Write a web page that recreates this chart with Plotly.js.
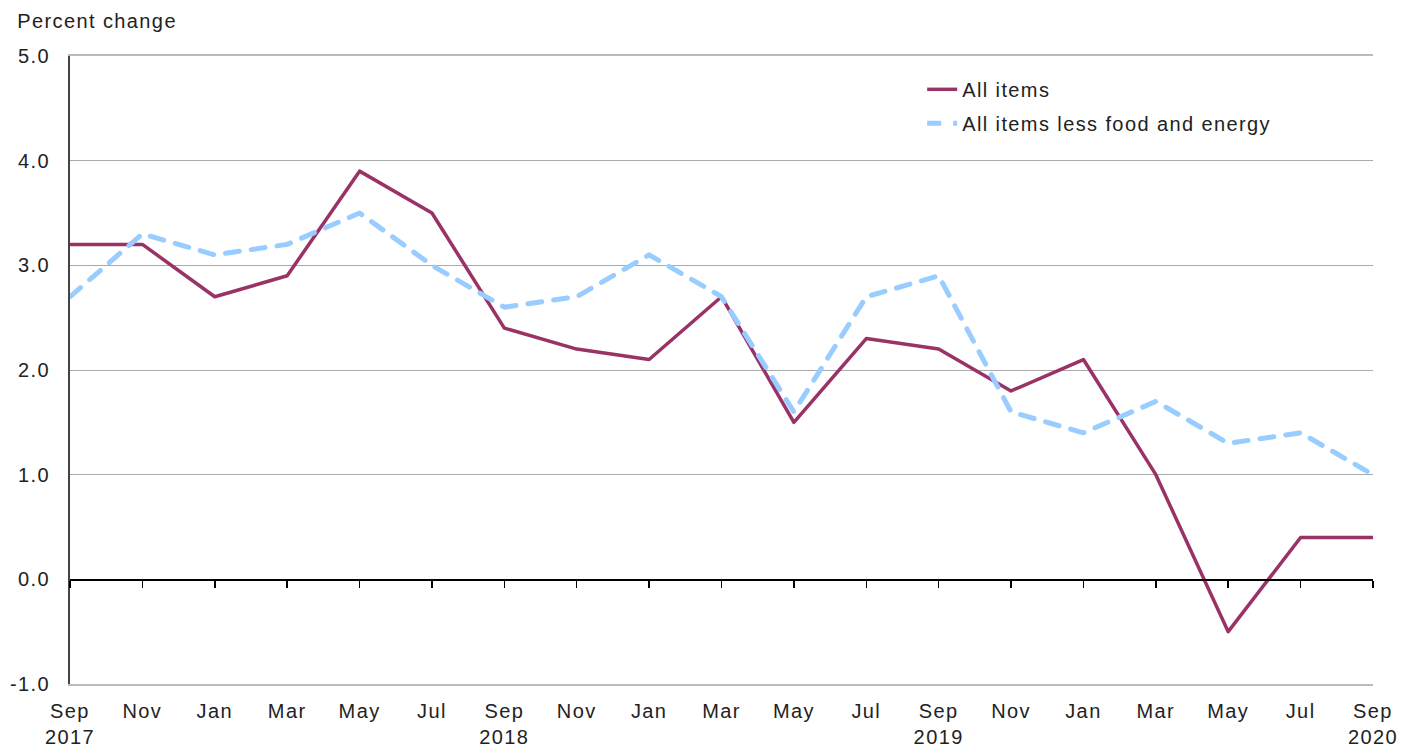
<!DOCTYPE html>
<html><head><meta charset="utf-8">
<script src="https://cdn.plot.ly/plotly-3.0.1.min.js"></script>
<style>
html,body{margin:0;padding:0;background:#fff}
#chart{width:1403px;height:752px}
#chart text{letter-spacing:1.4px}
#chart .legend .scrollbox, #chart .legend g{clip-path:none !important}
#chart .scatterlayer .js-line{stroke-linecap:round;stroke-linejoin:round}
</style>
</head><body><div id="chart"></div>
<script>
const months = ["Sep 2017","Nov 2017","Jan 2018","Mar 2018","May 2018","Jul 2018","Sep 2018","Nov 2018","Jan 2019","Mar 2019","May 2019","Jul 2019","Sep 2019","Nov 2019","Jan 2020","Mar 2020","May 2020","Jul 2020","Sep 2020"];
const tickLabels = ["Sep<br>2017","Nov","Jan","Mar","May","Jul","Sep<br>2018","Nov","Jan","Mar","May","Jul","Sep<br>2019","Nov","Jan","Mar","May","Jul","Sep<br>2020"];
const allItems = [3.2,3.2,2.7,2.9,3.9,3.5,2.4,2.2,2.1,2.7,1.5,2.3,2.2,1.8,2.1,1.0,-0.5,0.4,0.4];
const coreItems = [2.7,3.3,3.1,3.2,3.5,3.0,2.6,2.7,3.1,2.7,1.6,2.7,2.9,1.6,1.4,1.7,1.3,1.4,1.0];
const yTicks = [-1,0,1,2,3,4,5];
const yTickText = ["-1.0","0.0","1.0","2.0","3.0","4.0","5.0"];

const idx = months.map((m,i)=>i);
const FAM = "Liberation Sans, Arial, sans-serif";
const font = {family: FAM, size: 20, color:"#222"};

const traces = [
  {x: idx, y: allItems, name: "All items", mode: "lines", type: "scatter", legendgroup: "a",
   line: {color: "#993366", width: 3.5}, hovertext: months, xaxis: "x", yaxis: "y"},
  {x: idx, y: coreItems, name: "All items less food and energy", mode: "lines", type: "scatter", legendgroup: "b",
   line: {color: "#99CCFF", width: 5, dash: "14px,12px"}, hovertext: months, xaxis: "x2", yaxis: "y"}
];

const layout = {
  width: 1403, height: 752,
  margin: {l: 70, r: 30, t: 56, b: 68},
  paper_bgcolor: "#fff", plot_bgcolor: "#fff",
  font: font,
  showlegend: true,
  legend: {x: 0.654, y: 0.978, xanchor: "left", yanchor: "top", bgcolor: "rgba(0,0,0,0)",
           font: font, traceorder: "grouped", tracegroupgap: 5},
  xaxis: {range: [0, months.length-1], tickmode: "array", tickvals: idx, ticktext: tickLabels,
          showgrid: false, zeroline: false, showline: true, linecolor: "#bbbbbb", linewidth: 2,
          mirror: true, ticks: "", ticklabelstandoff: 8, tickfont: font, fixedrange: true},
  xaxis2: {range: [0, months.length-1], overlaying: "x", anchor: "free", position: 1/6,
           tickmode: "array", tickvals: idx, showticklabels: false, ticks: "outside", ticklen: 7,
           tickcolor: "#000", tickwidth: 1.5, showline: true, linecolor: "#000", linewidth: 1.5,
           showgrid: false, zeroline: false},
  yaxis: {range: [-1, 5], tickmode: "array", tickvals: yTicks, ticktext: yTickText,
          showgrid: true, gridcolor: "#aaaaaa", gridwidth: 1, zeroline: false,
          showline: true, linecolor: "#444", linewidth: 2, ticks: "", ticklabelstandoff: 14,
          tickfont: font},
  annotations: [{text: "Percent change", xref: "paper", yref: "paper", x: -0.0344, y: 1.035,
                 xanchor: "left", yanchor: "bottom", showarrow: false, font: font}]
};

Plotly.newPlot("chart", traces, layout, {displayModeBar: false, staticPlot: true});
</script></body></html>
